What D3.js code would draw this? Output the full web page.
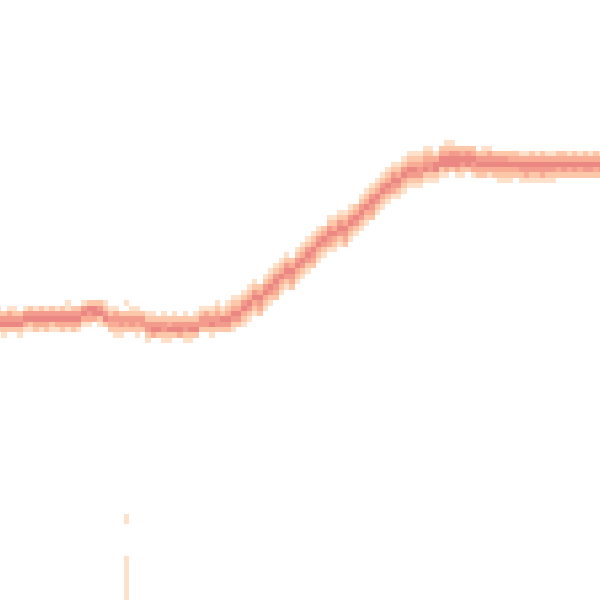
<!DOCTYPE html>
<html><head><meta charset="utf-8">
<script src="https://cdn.jsdelivr.net/npm/d3@7"></script>
<style>html,body{margin:0;padding:0;background:#fff}svg{display:block}</style>
</head><body>
<script>
// First column index of the grid
const firstCol = -1;
// Row of the reference cell in every column (columns -1 .. 112)
const coreRow = [
  59,59,59,59,59,
  59,59,59,59,59,59,59,59,59,59,59,
  57,57,57,57,
  58,59,59,59,59,59,59,59,
  60,60,60,60,60,60,60,60,60,60,
  59,59,59,59,59,59,
  58,58,57,56,55,55,54,53,52,51,50,50,49,48,47,46,45,44,43,43,42,42,41,40,39,38,37,36,35,34,33,33,
  32,31,31,31,30,30,30,
  29,29,29,29,29,29,29,
  30,30,30,30,30,30,30,30,30,30,30,30,30,30,30,30,30,30,30,30,30,30,30,30
];
// Density level (0-5) of the rows core-3 .. core+3 in every column
const profiles = [
  "0124520","0024521","0134520","0124520","0024521",
  "0145310","0245210","0145320","0245310","0145320","0245210","0145310","0245320","1145310","0245320","0245310",
  "0014531","0025431","0025530","0024521",
  "0124520","0124320","0134321","0024421","1024320","0124420","0124321","0024420",
  "0124421","0124530","0024520","0124421","0023521","0124520","0024530","0124421","0024521","0124520",
  "0124420","0134420","0124521","1234420","0125420","1235420",
  "1235421","1235420","1245321","1235421","1245321","0235432","1245321","1235421","1245432","1235321",
  "1245421","0235432","1245321","1235421","1245421","1235432","1245321","0235421","1245431","1235321",
  "1245421","1235432","1245321","0235421","1245421","1235321","1245432","1235421","1245321","1235421",
  "1245431","1235421",
  "1245321","1235421","1235421","1234421","1234521","1234421","0135521",
  "0235521","1235531","1245520","0245531","0235421","0245520","0235431",
  "0245320","1245320","1345310","0245320","0245321","0245321","0235321","0235320",
  "0135421","0135431","0235421","0135421","0235431","0135421","0135421","0235320",
  "0235420","0135320","0235420","0135320","0235420","0135420","0235320","0135420"
];
// Isolated faint cells below the band: [column, row, level]
const strayCells = [
  [23,96,1],[23,97,1],
  [23,104,1],[23,105,1],[23,106,1],[23,107,1],[23,108,1],[23,109,1],[23,110,1],[23,111,1],[23,112,1]
];
const levelColors = ["#fee1ca","#fdc7a9","#f9ad95","#f39b8d","#ec8884"];

const W = 600, H = 600;
const x = d3.scaleLinear().domain([-1, 112]).range([-4, 598.67]);
const y = d3.scaleLinear().domain([0, 112]).range([1.7, 599.03]);
const color = d3.scaleOrdinal().domain([1,2,3,4,5]).range(levelColors);

const cells = [];
coreRow.forEach((r, i) => {
  const c = firstCol + i;
  const p = profiles[i];
  for (let k = 0; k < p.length; k++) {
    const v = +p[k];
    if (v > 0) cells.push({c, r: r - 3 + k, v});
  }
});
strayCells.forEach(([c, r, v]) => cells.push({c, r, v}));

const svg = d3.select("body").append("svg").attr("width", W).attr("height", H);
svg.append("rect").attr("width", W).attr("height", H).attr("fill", "#fff");
svg.append("g").attr("shape-rendering", "crispEdges")
  .selectAll("rect").data(cells).join("rect")
  .attr("x", d => Math.round(x(d.c)))
  .attr("y", d => Math.round(y(d.r)))
  .attr("width", d => Math.round(x(d.c + 1)) - Math.round(x(d.c)))
  .attr("height", d => Math.round(y(d.r + 1)) - Math.round(y(d.r)))
  .attr("fill", d => color(d.v));
</script>
</body></html>
